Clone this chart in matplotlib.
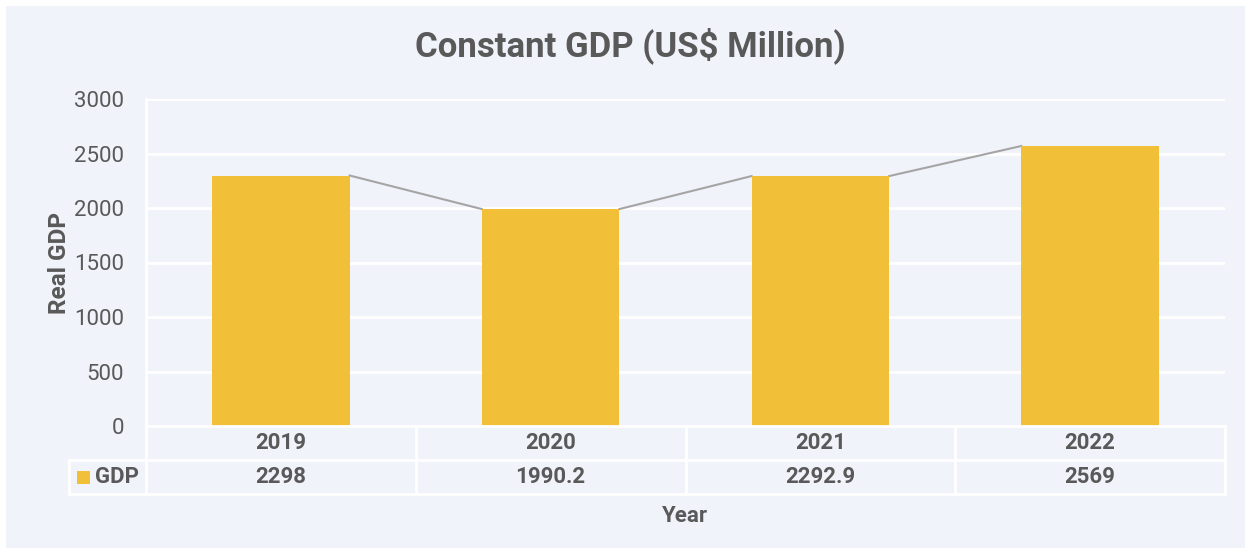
import matplotlib.pyplot as plt
from matplotlib.patches import Rectangle

plt.rcParams["font.family"] = ["Roboto", "DejaVu Sans"]

years = ["2019", "2020", "2021", "2022"]
gdp = [2298, 1990.2, 2292.9, 2569]
gdp_labels = ["2298", "1990.2", "2292.9", "2569"]
yticks = [0, 500, 1000, 1500, 2000, 2500, 3000]

BG = "#F0F3FA"
BAR = "#F2BF38"
TXT = "#595959"
W, H = 1251, 554

fig = plt.figure(figsize=(W / 100, H / 100), dpi=100, facecolor="white")
fig.patches.append(Rectangle((6 / W, 6 / H), 1239 / W, 542 / H, transform=fig.transFigure,
                             facecolor=BG, edgecolor="none", zorder=-10))

def fx(px):
    return px / W

def fy(py):
    return 1 - py / H

ax = fig.add_axes([fx(146), fy(426), fx(1225) - fx(146), fy(99) - fy(426)])
ax.set_facecolor("none")
x = list(range(len(years)))
bw = 0.51
ax.bar(x, gdp, width=bw, color=BAR, zorder=3)
# series lines between bar tops
for i in range(len(gdp) - 1):
    ax.plot([i + bw / 2, i + 1 - bw / 2], [gdp[i], gdp[i + 1]], color="#A5A5A5", lw=1.5, zorder=2)

ax.set_xlim(-0.5, len(years) - 0.5)
ax.set_ylim(0, 3000)
ax.set_yticks(yticks)
ax.set_xticks([])
ax.grid(axis="y", color="white", lw=2, zorder=1)
ax.set_axisbelow(True)
for s in ax.spines.values():
    s.set_visible(False)
ax.tick_params(axis="y", length=0, pad=16, labelsize=16, labelcolor=TXT)
ax.set_ylabel("Real GDP", fontsize=17.5, fontweight="bold", color=TXT, labelpad=2)

# data table below the plot
tb = fig.add_axes([fx(146), fy(494), fx(1225) - fx(146), fy(426) - fy(494)])
tb.set_xlim(-0.5, len(years) - 0.5)
tb.set_ylim(0, 2)
tb.axis("off")
lk = dict(color="white", lw=2, clip_on=False)
for b in [i - 0.5 for i in range(len(years) + 1)]:
    tb.plot([b, b], [0, 2], **lk)
tb.plot([-0.5, 3.5], [2, 2], **lk)
for i, (yr, lab) in enumerate(zip(years, gdp_labels)):
    tb.text(i, 1.5, yr, ha="center", va="center", fontsize=16, fontweight="bold", color=TXT)
    tb.text(i, 0.5, lab, ha="center", va="center", fontsize=16, fontweight="bold", color=TXT)

# header cell for the series row
fig.add_artist(plt.Line2D([fx(69), fx(1225)], [fy(460), fy(460)], color="white", lw=2))
fig.add_artist(plt.Line2D([fx(69), fx(1225)], [fy(494), fy(494)], color="white", lw=2))
fig.add_artist(plt.Line2D([fx(69), fx(69)], [fy(460), fy(494)], color="white", lw=2))
fig.add_artist(plt.Line2D([fx(146), fx(146)], [fy(99), fy(494)], color="white", lw=2))
fig.patches.append(Rectangle((fx(77), fy(484)), 13 / W, 13 / H, transform=fig.transFigure,
                             facecolor=BAR, edgecolor="none"))
fig.text(fx(95), fy(477), "GDP", ha="left", va="center", fontsize=16, fontweight="bold", color=TXT)

fig.text(fx(685), fy(516), "Year", ha="center", va="center", fontsize=16, fontweight="bold", color=TXT)
fig.text(fx(630), fy(46), "Constant GDP (US$ Million)", ha="center", va="center",
         fontsize=25, fontweight="bold", color=TXT)

fig.savefig("out.png", dpi=100, facecolor="white")
